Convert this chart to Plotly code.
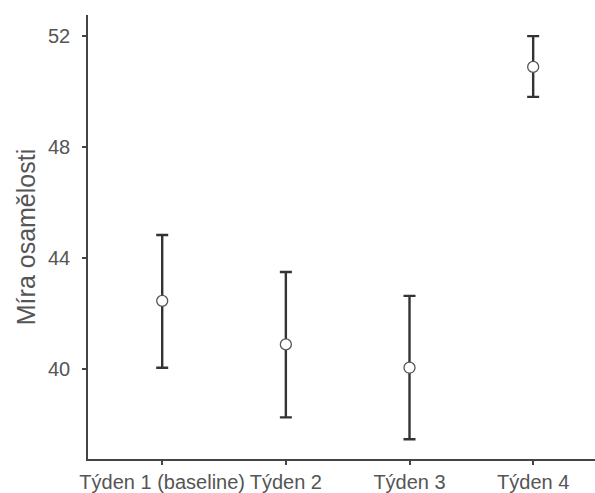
import plotly.graph_objects as go

categories = ["Týden 1 (baseline)", "Týden 2", "Týden 3", "Týden 4"]
means = [42.46, 40.89, 40.05, 50.89]
upper = [44.83, 43.50, 42.64, 52.00]
lower = [40.05, 38.26, 37.47, 49.81]

err_plus = [u - m for u, m in zip(upper, means)]
err_minus = [m - l for m, l in zip(means, lower)]

fig = go.Figure()
fig.add_trace(go.Scatter(
    x=list(range(len(categories))), y=means, mode="markers",
    marker=dict(symbol="circle", size=11, color="white",
                line=dict(color="#555555", width=1.3)),
    error_y=dict(type="data", symmetric=False, array=err_plus, arrayminus=err_minus,
                 color="#333333", thickness=2.4, width=6),
    showlegend=False,
))

fig.update_layout(
    width=595, height=493,
    margin=dict(l=88, r=0, t=15, b=34),
    paper_bgcolor="white", plot_bgcolor="white",
    font=dict(family="Liberation Sans, Arial, sans-serif", color="#555555", size=20),
    xaxis=dict(
        range=[-0.6, 3.5], tickmode="array",
        tickvals=list(range(len(categories))), ticktext=categories,
        showline=True, linecolor="#444444", linewidth=1.5,
        ticks="outside", ticklen=4, tickcolor="#444444", tickwidth=1.5,
        showgrid=False, zeroline=False,
        tickfont=dict(size=20, color="#555555"),
    ),
    yaxis=dict(
        range=[36.76, 52.76], tickvals=[40, 44, 48, 52],
        showline=True, linecolor="#444444", linewidth=1.5,
        ticks="outside", ticklen=4, tickcolor="#444444", tickwidth=1.5,
        showgrid=False, zeroline=False, ticklabelstandoff=8,
        tickfont=dict(size=20, color="#555555"),
        title=dict(text="Míra osamělosti", font=dict(size=25, color="#555555"), standoff=5),
    ),
)

fig.write_html("out.html")
